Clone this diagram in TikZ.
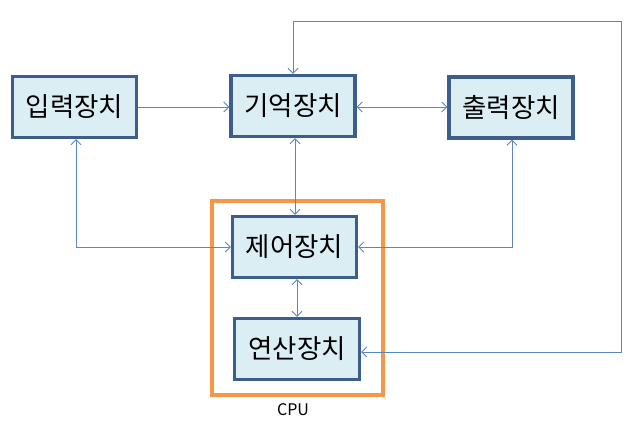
\documentclass[tikz,border=0pt]{standalone}
\usepackage{fontspec}
\setmainfont{Noto Sans CJK KR}
\usetikzlibrary{arrows.meta}
\definecolor{boxfill}{HTML}{DAEEF3}
\definecolor{boxline}{HTML}{3B5E8C}
\definecolor{wire}{HTML}{5B86C0}
\definecolor{cpuline}{HTML}{F79646}
\begin{document}
\begin{tikzpicture}[x=1pt,y=-1pt,
  unit/.style={draw=boxline,line width=3.3pt,fill=boxfill,minimum width=#1,minimum height=61pt,
    inner sep=0pt,font=\fontsize{26.5}{30}\selectfont},
  unit/.default=124pt,
  wire/.style={draw=wire,line width=0.9pt,{Straight Barb[length=5pt,width=10pt]}-{Straight Barb[length=5pt,width=10pt]}},
  oneway/.style={draw=wire,line width=0.9pt,-{Straight Barb[length=5pt,width=10pt]}}]
\useasboundingbox (0,0) rectangle (638,425);
% CPU enclosure
\draw[cpuline,line width=3.2pt] (212,201) rectangle (383,395);
\node[font=\fontsize{16}{18}\selectfont] (cpu) at (293,410) {CPU};
% units
\node[unit] (in)  at (74.5,107) {입력장치};
\node[unit] (mem) at (293,106) {기억장치};
\node[unit] (out) at (511,107.5) {출력장치};
\node[unit] (ctl) at (294.5,247) {제어장치};
\node[unit=125pt] (alu) at (297,349) {연산장치};
% helper points for routed lines
\coordinate (c1) at (76,247);
\coordinate (c2) at (512,247);
\coordinate (c3) at (621,352);
\coordinate (c4) at (621,21);
\coordinate (c5) at (293,21);
% connectors
\draw[oneway] (in.east |- 0,107) -- (mem.west |- 0,107);
\draw[wire] (mem.east |- 0,107) -- (out.west |- 0,107);
\draw[wire] (mem.south -| 295,0) -- (ctl.north -| 295,0);
\draw[wire] (ctl.south -| 297,0) -- (alu.north -| 297,0);
\draw[wire] (in.south -| c1) -- (c1) -- (ctl.west |- c1);
\draw[wire] (out.south -| c2) -- (c2) -- (ctl.east |- c2);
\draw[wire] (alu.east |- c3) -- (c3) -- (c4) -- (c5) -- (mem.north -| c5);
\end{tikzpicture}
\end{document}
